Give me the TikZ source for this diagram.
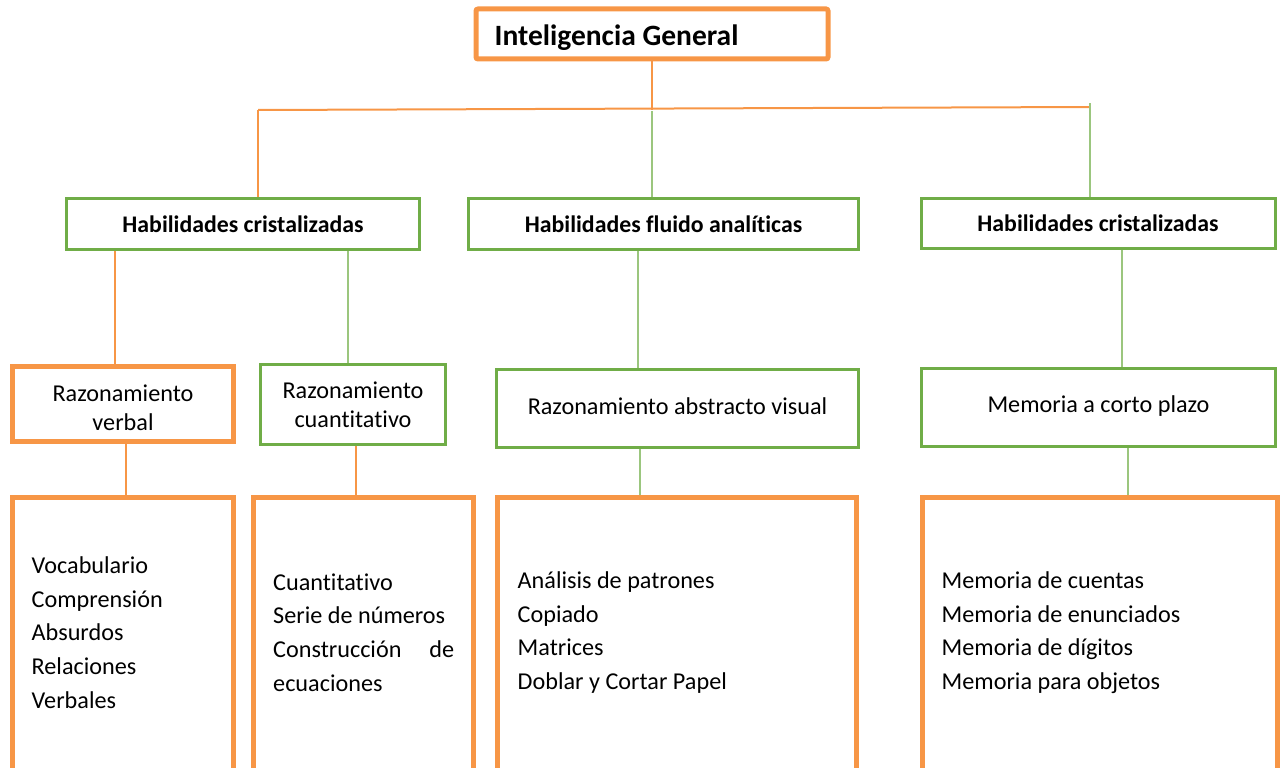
\documentclass[tikz,border=0pt]{standalone}
\usepackage{fontspec}
\setmainfont{Carlito}[Ligatures=CommonOff]
\usepackage{xcolor}
\usetikzlibrary{positioning, calc}
\definecolor{naranja}{HTML}{F79646}
\definecolor{verde}{HTML}{70AD47}

\begin{document}
\begin{tikzpicture}[x=1pt, y=-1pt,
  cajaV/.style={draw=verde, line width=3pt, inner sep=0pt, align=center},
  cajaN/.style={draw=naranja, line width=5pt, inner sep=0pt, align=center},
  lnar/.style={draw=naranja, line width=2pt},
  lver/.style={draw=verde!70, line width=2pt},
  tnorm/.style={font=\fontsize{24.2}{29}\selectfont},
  tbold/.style={font=\fontsize{23.8}{28}\selectfont\bfseries},
  lista/.style={inner sep=0pt, align=left, font=\fontsize{24.2}{33.6}\selectfont}]
\useasboundingbox (0,0) rectangle (1282,768);
\clip (0,0) rectangle (1282,768);

% nivel 1
\node[cajaN, rounded corners=2pt, minimum width=352, minimum height=50] (tit) at (652,34) {};
\node[anchor=base west, inner sep=0pt, font=\fontsize{29.5}{34}\selectfont\bfseries]
  (tittxt) at ([xshift=21pt,yshift=-12pt]tit.west) {Inteligencia General};

% nivel 2
\node[cajaV, tbold, minimum width=353, minimum height=51] (hc1) at (243,224) {Habilidades cristalizadas};
\node[cajaV, tbold, minimum width=390, minimum height=51] (hfa) at (663.5,224) {Habilidades fluido analíticas};
\node[cajaV, tbold, minimum width=354, minimum height=50] (hc2) at (1098,223) {Habilidades cristalizadas};

% nivel 3
\node[cajaN, minimum width=221, minimum height=75] (rv) at (123,404) {};
\node[tnorm, align=center, inner sep=0pt] (rvtxt) at ([yshift=-4pt]rv.center) {Razonamiento\\verbal};
\node[cajaV, tnorm, minimum width=185, minimum height=80] (rc) at (353,404.5) {Razonamiento\\cuantitativo};
\node[cajaV, tnorm, minimum width=362, minimum height=78] (rav) at (677.5,408.5) {\raisebox{5pt}{Razonamiento abstracto visual}};
\node[cajaV, tnorm, minimum width=354, minimum height=78] (mcp) at (1098.5,407.5) {\raisebox{7pt}{Memoria a corto plazo}};

% nivel 4
\node[cajaN, minimum width=221, minimum height=300] (b1) at (123,647.5) {};
\node[cajaN, minimum width=220, minimum height=300] (b2) at (363.5,647.5) {};
\node[cajaN, minimum width=359, minimum height=300] (b3) at (677,647.5) {};
\node[cajaN, minimum width=355, minimum height=300] (b4) at (1100,647.5) {};

\node[lista, anchor=west] (l1) at ([xshift=21.5pt,yshift=15pt]b1.west)
  {Vocabulario\\Comprensión\\Absurdos\\Relaciones\\Verbales};
\node[lista, anchor=west, text width=181pt, align=justify] (l2) at ([xshift=22pt,yshift=15pt]b2.west)
  {\hyphenpenalty=10000 Cuantitativo\\Serie de números\\Construcción de ecuaciones};
\node[lista, anchor=west] (l3) at ([xshift=22.5pt,yshift=15pt]b3.west)
  {Análisis de patrones\\Copiado\\Matrices\\Doblar y Cortar Papel};
\node[lista, anchor=west] (l4) at ([xshift=21.5pt,yshift=15pt]b4.west)
  {Memoria de cuentas\\Memoria de enunciados\\Memoria de dígitos\\Memoria para objetos};

% conectores
\coordinate (barL) at (258,110);
\coordinate (barR) at (1090,107);
\draw[lnar] (tit.south) -- (tit.south |- barL);
\draw[lnar] (barL) -- (barR);
\draw[lnar] (barL) -- (barL |- hc1.north);
\draw[lver] ([yshift=-1pt]tit.south |- barL) -- (tit.south |- hfa.north);
\draw[lver] ([yshift=4pt]barR) -- (barR |- hc2.north);

\draw[lnar] ([xshift=-8pt]rv.north) -- ([xshift=-8pt]rv.north |- hc1.south);
\draw[lver] ([xshift=-5pt]rc.north) -- ([xshift=-5pt]rc.north |- hc1.south);
\draw[lver] ([xshift=-39.5pt]rav.north) -- ([xshift=-39.5pt]rav.north |- hfa.south);
\draw[lver] ([xshift=23.5pt]mcp.north) -- ([xshift=23.5pt]mcp.north |- hc2.south);

\draw[lnar] ([xshift=3pt]b1.north) -- ([xshift=3pt]b1.north |- rv.south);
\draw[lnar] ([xshift=-7.5pt]b2.north) -- ([xshift=-7.5pt]b2.north |- rc.south);
\draw[lver] ([xshift=-37pt]b3.north) -- ([xshift=-37pt]b3.north |- rav.south);
\draw[lver] ([xshift=28pt]b4.north) -- ([xshift=28pt]b4.north |- mcp.south);
\end{tikzpicture}
\end{document}
